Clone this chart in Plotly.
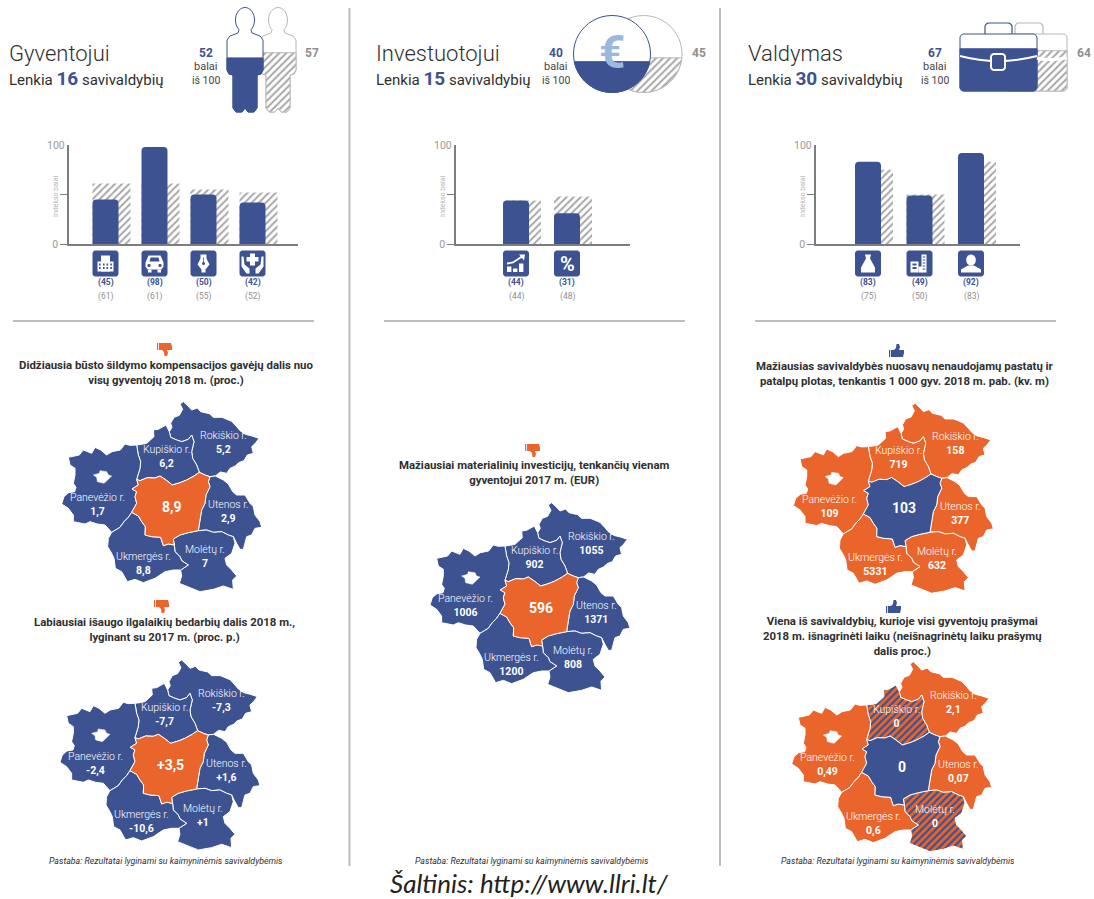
import math
import plotly.graph_objects as go

# ---- Indicator data --------------------------------------------------------
SECTION_TITLES = ["Gyventojui", "Investuotojui", "Valdymas"]
OUTRANKED = [16, 15, 30]
SCORES = [52, 40, 67]
NEIGHBOUR_SCORES = [57, 45, 64]

BAR_VALUES = [[45, 98, 50, 42], [44, 31], [83, 49, 92]]
BAR_NEIGHBOURS = [[61, 61, 55, 52], [44, 48], [75, 50, 83]]
BAR_ICONS = [["building", "car", "pen", "care"], ["growth", "percent"], ["bag", "towers", "person"]]

REGIONS = ["Rokiškio r.", "Kupiškio r.", "Panevėžio r.", "Utenos r.", "Molėtų r.", "Ukmergės r."]
MAP_VALUES = [
    ["5,2", "6,2", "1,7", "2,9", "7", "8,8", "8,9"],
    ["-7,3", "-7,7", "-2,4", "+1,6", "+1", "-10,6", "+3,5"],
    ["1055", "902", "1006", "1371", "808", "1200", "596"],
    ["158", "719", "109", "377", "632", "5331", "103"],
    ["2,1", "0", "0,49", "0,07", "0", "0,6", "0"],
]
MAP_HEADINGS = [
    "Didžiausia būsto šildymo kompensacijos gavėjų dalis nuo<br>visų gyventojų 2018 m. (proc.)",
    "Labiausiai išaugo ilgalaikių bedarbių dalis 2018 m.,<br>lyginant su 2017 m. (proc. p.)",
    "Mažiausiai materialinių investicijų, tenkančių vienam<br>gyventojui 2017 m. (EUR)",
    "Mažiausias savivaldybės nuosavų nenaudojamų pastatų ir<br>patalpų plotas, tenkantis 1 000 gyv. 2018 m. pab. (kv. m)",
    "Viena iš savivaldybių, kurioje visi gyventojų prašymai<br>2018 m. išnagrinėti laiku (neišnagrinėtų laiku prašymų<br>dalis proc.)",
]
NOTE = "Pastaba: Rezultatai lyginami su kaimyninėmis savivaldybėmis"
SOURCE = "Šaltinis: http://www.llri.lt/"

# ---- Municipality outlines: shared borders, so neighbours line up ----------
ROK_OUTER = [(388,275),(396,262),(392,250),(402,232),(418,226),(428,208),(420,192),(430,185),(444,198),(455,210),
             (472,204),(482,215),(508,221),(520,232),(546,232),(575,244),(590,260),(600,272),(616,283),(636,288),
             (657,295),(646,310),(635,320),(640,340),(622,345),(612,362),(596,368),(586,378),(570,385),(560,400),
             (541,396),(526,408)]
KUP_ROK = [(388,275),(392,292),(410,300),(425,305),(445,298),(455,285),(462,305),(455,335),(458,355),(470,375),(478,397)]
CENTER_TOP_W = [(290,418),(300,422),(322,413),(345,414),(360,408),(378,420),(397,435),(420,428),(440,420),(462,408),(478,397)]
CENTER_TOP_E = [(478,397),(495,405),(510,410)]
PAN_KUP = [(290,418),(300,385),(302,365),(295,345),(290,315)]
KUP_TOP = [(290,315),(305,313),(320,310),(342,290),(340,270),(355,268),(378,255),(388,275)]
PAN_OUTER = [(290,315),(270,316),(255,312),(241,330),(216,335),(200,345),(182,330),(165,322),(155,340),(130,330),
             (118,345),(85,352),(90,375),(105,385),(105,405),(100,430),(108,442),(104,455),(86,458),(72,470),(65,492),
             (85,505),(100,525),(100,545),(135,552),(150,545),(172,552),(195,555),(215,577)]
PAN_UKM = [(215,577),(240,562),(252,545),(265,532),(275,517)]
CENTER_W = [(275,517),(290,490),(285,470),(290,455),(276,447),(295,435),(290,418)]
CENTER_E = [(510,410),(505,425),(510,440),(498,465),(495,490),(485,510),(480,540),(475,572)]
CENTER_S_E = [(475,572),(445,578),(420,585),(400,597),(403,615)]
CENTER_S_W = [(403,615),(385,612),(370,617),(362,592),(335,590),(315,585),(316,560),(305,545),(295,528),(275,517)]
UTE_OUTER = [(510,410),(526,408),(550,420),(565,432),(578,455),(590,465),(615,465),(630,490),(640,500),(645,525),
             (660,545),(665,562),(645,565),(635,585),(620,590),(610,628),(600,628),(590,610),(580,590)]
UTE_MOL = [(580,590),(565,585),(545,575),(520,577),(500,570),(475,572)]
UKM_MOL = [(403,615),(405,635),(420,650),(425,662),(445,675),(422,690)]
MOL_OUTER = [(422,690),(425,708),(418,730),(455,745),(480,755),(520,748),(550,738),(580,748),(578,720),(590,708),
             (575,690),(560,675),(555,655),(575,640),(585,610),(580,590)]
UKM_OUTER = [(215,577),(205,595),(203,620),(215,640),(222,655),(226,685),(245,695),(262,725),(285,718),(310,728),
             (345,715),(375,695),(400,690),(422,690)]
CITY_HOLE = [(160,405),(178,400),(180,392),(200,395),(205,405),(215,408),(205,418),(192,430),(172,425),(170,412)]

SHAPES = [
    ROK_OUTER + CENTER_TOP_E[::-1] + KUP_ROK[::-1],
    KUP_TOP + KUP_ROK + CENTER_TOP_W[::-1] + PAN_KUP,
    PAN_OUTER + PAN_UKM + CENTER_W + PAN_KUP,
    UTE_OUTER + UTE_MOL + CENTER_E[::-1],
    CENTER_S_E + UKM_MOL + MOL_OUTER + UTE_MOL,
    UKM_OUTER + UKM_MOL[::-1] + CENTER_S_W + PAN_UKM[::-1],
    CENTER_TOP_W + CENTER_TOP_E + CENTER_E + CENTER_S_E + CENTER_S_W + CENTER_W,
]
LABEL_AT = [(550, 307), (380, 349), (172, 495), (565, 516), (495, 651), (310, 670), (397, 500)]

# ---- Styling ---------------------------------------------------------------
W, H = 1094, 899
BLUE, ORANGE = "#3c5291", "#ea652b"
GREY, TEXT = "#8f8f8f", "#2f2f2f"
HATCH = dict(shape="/", fgcolor="#a6a6a6", bgcolor="white", size=5, solidity=0.4)
FONT = "Roboto"

fig = go.Figure()
shapes, notes = [], []


def text(x, y, s, size, color=TEXT, anchor="center", weight=400, xref="x", yref="y", italic=False, angle=0, family=FONT):
    notes.append(dict(x=x, y=y, xref=xref, yref=yref, text=s, showarrow=False, xanchor=anchor, yanchor="middle",
                      align="center" if anchor == "center" else "left", textangle=angle, borderpad=0,
                      font=dict(family=family, size=size, color=color, weight=weight,
                                style="italic" if italic else "normal")))


def path(points):
    return "M" + "L".join(f"{a:.1f},{b:.1f}" for a, b in points) + "Z"


def glyph(points, color="white", line=None, width=0):
    shapes.append(dict(type="path", path=path(points), xref="x", yref="y", fillcolor=color, layer="above",
                       line=dict(color=line or color, width=width)))


def rect(x0, y0, x1, y1):
    return [(x0, y0), (x1, y0), (x1, y1), (x0, y1)]


def ellipse(cx, cy, rx, ry, a0=0, a1=360, n=48):
    return [(cx + rx * math.cos(math.radians(a0 + (a1 - a0) * i / n)),
             cy + ry * math.sin(math.radians(a0 + (a1 - a0) * i / n))) for i in range(n + 1)]


def rounded(x0, y0, x1, y1, r):
    pts = []
    for cx, cy, a in [(x1 - r, y0 + r, -90), (x1 - r, y1 - r, 0), (x0 + r, y1 - r, 90), (x0 + r, y0 + r, 180)]:
        pts += ellipse(cx, cy, r, r, a, a + 90, 6)
    return pts


def clip_below(points, level):
    # Keep the part of a polygon under a horizontal level (screen y grows downward).
    out = []
    for (a, b), (c, d) in zip(points, points[1:] + points[:1]):
        if b >= level:
            out.append((a, b))
        if (b >= level) != (d >= level):
            out.append((a + (c - a) * (level - b) / (d - b), level))
    return out


def area(points, fill=None, pattern=None, line=None, width=1, axes=("x", "y")):
    xs, ys = zip(*(points + points[:1]))
    kw = dict(fillpattern=pattern) if pattern else {}
    fig.add_trace(go.Scatter(x=xs, y=ys, mode="lines", fill="toself", fillcolor=fill, hoverinfo="skip",
                             line=dict(color=line or "rgba(0,0,0,0)", width=width, simplify=False), showlegend=False,
                             xaxis=axes[0], yaxis=axes[1], cliponaxis=False, **kw))


def gauge(points, value, bottom, height, color, hatched):
    # Outline plus a filled lower part whose height follows the score.
    lower = clip_below(points, bottom - value / 100 * height)
    area(points, fill="white", line=color)
    if hatched:
        area(lower, pattern=HATCH, fill="white", line=color)
    else:
        area(lower, fill=color, line=color)


# ---- Header pictograms -----------------------------------------------------
def person(dx):
    body = [(239, 30), (238, 33), (230, 36), (227, 40), (227, 70), (229, 74), (233, 75), (233, 108), (236, 112),
            (242, 112), (245, 108), (248, 112), (254, 112), (257, 108), (257, 75), (261, 74), (263, 70), (263, 40),
            (260, 36), (252, 33), (251, 30)]
    head = ellipse(245, 20, 9.5, 12.5, 60, -240, 30)[1:-1]
    return [(a + dx, b) for a, b in body + head]


gauge(person(33), NEIGHBOUR_SCORES[0], 112, 104, "#b8b8b8", True)
gauge(person(0), SCORES[0], 112, 104, BLUE, False)

gauge(ellipse(643.5, 54, 38.5, 38.5), NEIGHBOUR_SCORES[1], 92.5, 77, "#b8b8b8", True)
gauge(ellipse(612, 54, 38.5, 38.5), SCORES[1], 92.5, 77, BLUE, False)
text(612, 52, "€", 46, "#9ab9dd", weight=700)

# Briefcase handles sit behind the bodies
for x0, x1, col in [(1015, 1043, "#b8b8b8"), (985, 1012, BLUE)]:
    shapes.append(dict(type="path", path=path(rounded(x0, 23, x1, 40, 4)), xref="x", yref="y",
                       fillcolor="white", line=dict(color=col, width=1.2), layer="below"))
gauge(rounded(1005, 34, 1067, 91, 4), NEIGHBOUR_SCORES[2], 91, 63, "#b8b8b8", True)
gauge(rounded(960, 34, 1037, 91, 4), SCORES[2], 91, 63, BLUE, False)
shapes.append(dict(type="path", path="M1037,58 Q1045,61 1067,58", xref="x", yref="y", layer="above",
                   line=dict(color="white", width=3)))
shapes.append(dict(type="path", path="M960,56 Q998,66 1037,56", xref="x", yref="y", layer="above",
                   line=dict(color="white", width=2)))
glyph(rounded(991, 54, 1005, 70, 3), BLUE, "white", 2)

HEAD_X = [8, 375, 747]
SCORE_X = [206, 556, 935]
OTHER_X = [312, 699, 1084]
for i, title in enumerate(SECTION_TITLES):
    text(HEAD_X[i], 53, title, 22, TEXT, "left", 300)
    text(HEAD_X[i], 78,
         f"Lenkia <span style='color:{BLUE};font-size:19px;font-weight:700'>{OUTRANKED[i]}</span> savivaldybių",
         15, TEXT, "left")
    text(SCORE_X[i], 53, f"{SCORES[i]}", 12, BLUE, weight=700)
    text(SCORE_X[i], 66, "balai", 11, "#444")
    text(SCORE_X[i], 80, "iš 100", 10.5, "#444")
    text(OTHER_X[i], 53, f"{NEIGHBOUR_SCORES[i]}", 12, GREY, weight=700)


# ---- Small icons under the bars --------------------------------------------
def icon(kind, cx, cy=263.5):
    glyph(rounded(cx - 13, cy - 13, cx + 13, cy + 13, 3), BLUE)
    def at(pts):
        return [(cx + a, cy + b) for a, b in pts]
    if kind == "building":
        glyph(at(rect(-8, -2, 8, 8)))
        glyph(at(rect(-4.5, -8, 4.5, 8)))
        for gx in (-6.5, -2.5, 1, 4.8):
            for gy in (0, 3.5):
                glyph(at(rect(gx, gy, gx + 1.6, gy + 2)), BLUE)
    elif kind == "car":
        glyph(at([(-9, 3), (-9, -1), (-6, -8), (6, -8), (9, -1), (9, 3), (7, 6), (-7, 6)]))
        glyph(at(rect(-6.5, 6, -3, 9)))
        glyph(at(rect(3, 6, 6.5, 9)))
        glyph(at([(-5, -2), (-4, -6), (4, -6), (5, -2)]), BLUE)
        glyph(at(ellipse(-5.5, 2, 1.6, 1.6, n=10)), BLUE)
        glyph(at(ellipse(5.5, 2, 1.6, 1.6, n=10)), BLUE)
    elif kind == "pen":
        glyph(at([(-3, -9), (3, -9), (3, -5), (6, 1), (2, 6), (2, 9), (-2, 9), (-2, 6), (-6, 1), (-3, -5)]))
        glyph(at(ellipse(0, 0, 1.5, 1.5, n=10)), BLUE)
        glyph(at(rect(-0.4, -6, 0.4, 0)), BLUE)
    elif kind == "care":
        glyph(at([(-2.5, -10), (2.5, -10), (2.5, -6.5), (6, -6.5), (6, -2), (2.5, -2), (2.5, 2), (-2.5, 2),
                  (-2.5, -2), (-6, -2), (-6, -6.5), (-2.5, -6.5)]))
        for s in (-1, 1):
            glyph(at([(s * 11, -7), (s * 9, -7), (s * 8, 1), (s * 3, 5), (s * 3, 10), (s * 6, 10), (s * 11, 3)]))
    elif kind == "growth":
        for gx, top in [(-9, 3), (-3, 5), (3, 0)]:
            glyph(at(rect(gx, top, gx + 4.4, 8.5)))
        shapes.append(dict(type="path", path=path(at([(-9, 0), (-3, -1), (6, -7)]))[:-1], xref="x", yref="y",
                           line=dict(color="white", width=1.8), layer="above"))
        glyph(at([(3, -9), (9, -9), (8, -3)]))
    elif kind == "percent":
        text(cx, cy, "%", 20, "white", weight=700)
    elif kind == "bag":
        glyph(at([(-3, -9), (3, -9), (2, -5), (7, 4), (7, 9), (-7, 9), (-7, 4), (-2, -5)]))
    elif kind == "towers":
        glyph(at(rect(-9, -2, -1, 9)))
        glyph(at(rect(2, -9, 7, 9)))
        glyph(at(rect(-1, 3, 3, 9)))
        for gy in (-7, -4, -1, 2, 5):
            glyph(at(rect(3.2, gy, 5.8, gy + 1)), BLUE)
        for gy in (0, 3.5):
            glyph(at(rect(-7, gy, -3, gy + 2)), BLUE)
    elif kind == "person":
        glyph(at(ellipse(0, -3.5, 4.8, 5.5, n=20)))
        glyph(at([(-10, 9), (-10, 6), (-3, 2), (3, 2), (10, 6), (10, 9)]))


def thumb(cx, cy, up, color):
    sign = 1 if up else -1
    pts = [(-6, -1), (-3, -1), (-1, -3), (-0.5, -7), (2, -7), (3, -4), (2, -1), (7, -1), (7, 2), (6, 6), (-3, 6), (-6, 6)]
    glyph([(cx + a, cy + sign * b) for a, b in pts], color)
    glyph([(cx + a, cy + sign * b) for a, b in rect(-8, -1, -6.8, 6)], color)


# ---- Bar panels: each one has its own axes, read against the 0-100 scale ---
BAR_W, BACK_W = 26, 38
PANELS = [  # y-axis x, right end of baseline, first blue bar left edge, bar spacing
    (69, 298, 92.5, 49), (456, 630, 503, 51), (816, 1020, 855, 51.5)
]
for i, (ax_x, ax_end, first, step) in enumerate(PANELS):
    xa, ya = f"xaxis{i + 2}", f"yaxis{i + 2}"
    xn, yn = f"x{i + 2}", f"y{i + 2}"
    x0 = first + BAR_W / 2
    cats = list(range(len(BAR_VALUES[i])))
    fig.add_trace(go.Bar(x=cats, y=BAR_NEIGHBOURS[i], width=BACK_W / step, offset=-BAR_W / 2 / step,
                         marker=dict(color="white", pattern=HATCH, line=dict(width=0)), xaxis=xn, yaxis=yn,
                         showlegend=False, hoverinfo="skip"))
    fig.add_trace(go.Bar(x=cats, y=BAR_VALUES[i], width=BAR_W / step, offset=-BAR_W / 2 / step,
                         marker=dict(color=BLUE, cornerradius=4, line=dict(width=0)), xaxis=xn, yaxis=yn,
                         showlegend=False, hoverinfo="skip"))
    fig.layout[xa] = dict(domain=[ax_x / W, ax_end / W], range=[(ax_x - x0) / step, (ax_end - x0) / step],
                          anchor=yn, showgrid=False, zeroline=False, showticklabels=False, ticks="",
                          showline=True, linecolor="#7d7d7d", linewidth=1.5, fixedrange=True)
    fig.layout[ya] = dict(domain=[1 - 244 / H, 1 - 145 / H], range=[0, 100], anchor=xn, showgrid=False,
                          zeroline=False, tickvals=[0, 50], ticktext=["0", ""], ticks="outside",
                          ticklen=7, tickwidth=1.2, tickcolor="#7d7d7d", showline=True, linecolor="#7d7d7d",
                          linewidth=1.5, tickfont=dict(family=FONT, size=10.5, color="#9a9a9a"), fixedrange=True)
    text(ax_x - 13, 145, "100", 10.5, "#9a9a9a")
    text(ax_x - 13, 196, "Indekso balai", 7, "#b5b5b5", angle=-90)
    for j, kind in enumerate(BAR_ICONS[i]):
        cx = x0 + j * step
        icon(kind, cx)
        text(j, 1 - 283 / H, f"({BAR_VALUES[i][j]})", 8.5, BLUE, weight=700, xref=xn, yref="paper")
        text(j, 1 - 296 / H, f"({BAR_NEIGHBOURS[i][j]})", 8.5, GREY, xref=xn, yref="paper")

# ---- Municipality maps ------------------------------------------------------
HATCH_MAP = dict(shape="/", fgcolor=BLUE, bgcolor=ORANGE, size=5, solidity=0.45)
MAP_ORIGINS = [(40, 340), (38.3, 598.3), (408.3, 441), (771.7, 341.6), (770, 600)]
U0, U1, V0, V1 = 40, 690, 170, 770
CENTER_BLUE = [False, False, False, True, True]
HEAD_POS = [(166, 372), (164, 629), (534, 472), (905, 373), (902, 636)]
THUMBS = [(165, 349, False), (162, 606, False), (533, 450, False), (897, 351, True), (894, 607, True)]
NOTE_X = [166, None, 532, None, 898]
HATCHED_ZERO = {4: {1, 4}}

for m, (ox, oy) in enumerate(MAP_ORIGINS):
    n = m + 5
    xn, yn = f"x{n}", f"y{n}"
    fig.layout[f"xaxis{n}"] = dict(domain=[(ox + U0 / 3) / W, (ox + U1 / 3) / W], range=[U0, U1], visible=False,
                                   anchor=yn, fixedrange=True)
    fig.layout[f"yaxis{n}"] = dict(domain=[1 - (oy + V1 / 3) / H, 1 - (oy + V0 / 3) / H], range=[V1, V0],
                                   visible=False, anchor=xn, fixedrange=True)
    others, middle = (ORANGE, BLUE) if CENTER_BLUE[m] else (BLUE, ORANGE)
    for r, pts in enumerate(SHAPES):
        fill = middle if r == 6 else others
        pattern = HATCH_MAP if r in HATCHED_ZERO.get(m, ()) else None
        area(pts, fill=fill, pattern=pattern, line="white", width=1, axes=(xn, yn))
    area(CITY_HOLE, fill="white", line="white", width=0.5, axes=(xn, yn))
    for r, (lx, ly) in enumerate(LABEL_AT):
        if r == 6:
            text(lx, ly, f"{MAP_VALUES[m][r]}", 14, "white", weight=700, xref=xn, yref=yn)
        else:
            text(lx, ly, f"<span style='font-weight:300'>{REGIONS[r]}</span><br><b>{MAP_VALUES[m][r]}</b>",
                 10.5, "white", xref=xn, yref=yn)
    hx, hy = HEAD_POS[m]
    text(hx, hy, MAP_HEADINGS[m], 11.4, TEXT, weight=700)
    tx, ty, up = THUMBS[m]
    thumb(tx, ty, up, BLUE if up else ORANGE)
    if NOTE_X[m] is not None:
        text(NOTE_X[m], 861, NOTE, 8.8, TEXT, italic=True)

# ---- Column rules and source line --------------------------------------------
for x in (349.5, 720):
    shapes.append(dict(type="line", x0=x, x1=x, y0=8, y1=866, xref="x", yref="y",
                       line=dict(color="#bdbdbd", width=2)))
for x0 in (13, 384, 755):
    shapes.append(dict(type="line", x0=x0, x1=x0 + 301, y0=321, y1=321, xref="x", yref="y",
                       line=dict(color="#a8a8a8", width=1.5)))
text(529, 883, SOURCE, 26, "#222", italic=True, family="Lato")

fig.update_layout(
    template="none", width=W, height=H, margin=dict(l=0, r=0, t=0, b=0, pad=0, autoexpand=False),
    paper_bgcolor="white", plot_bgcolor="rgba(0,0,0,0)",
    barmode="overlay", showlegend=False, shapes=shapes, annotations=notes,
    xaxis=dict(domain=[0, 1], range=[0, W], visible=False, fixedrange=True),
    yaxis=dict(domain=[0, 1], range=[H, 0], visible=False, fixedrange=True),
)
fig.write_html("out.html", config=dict(displayModeBar=False))
